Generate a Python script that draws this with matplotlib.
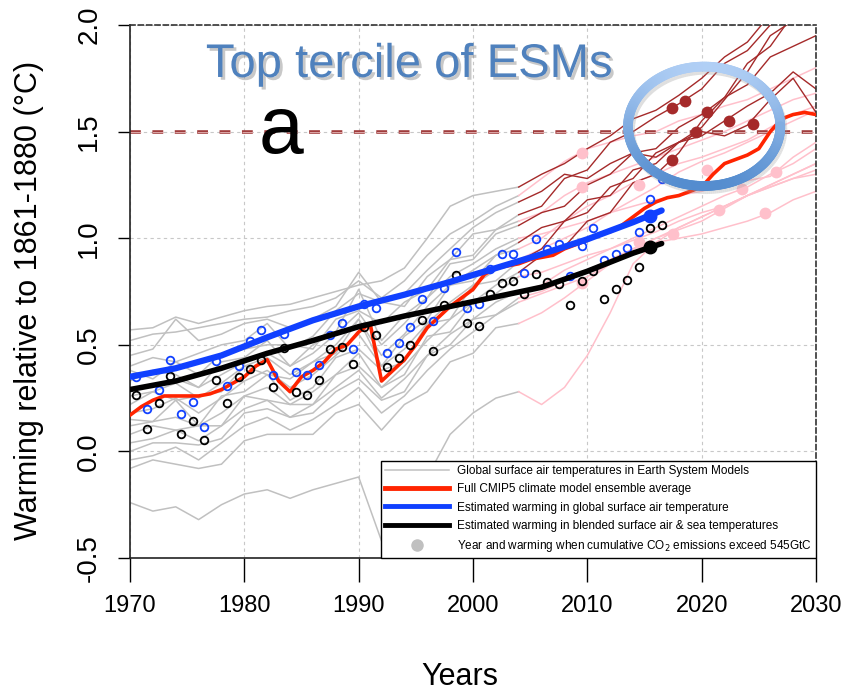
import numpy as np
import matplotlib
matplotlib.use('Agg')
from matplotlib import pyplot as plt
from matplotlib import font_manager as fm
from matplotlib.lines import Line2D
from matplotlib.collections import LineCollection
import matplotlib.patheffects as pe

# ---------------------------------
# DATA
# ---------------------------------
esm_years = list(range(1970, 2031, 2))   # model grid, grey up to 2004
split_year = 2004

# top tercile models (grey before 2004, brown after)
top_models = [
    [0.57, 0.58, 0.63, 0.60, 0.63, 0.66, 0.68, 0.69, 0.72, 0.75, 0.78, 0.80, 0.86, 1.00, 1.15, 1.20, 1.22, 1.24,
     1.30, 1.35, 1.42, 1.48, 1.56, 1.60, 1.67, 1.75, 1.85, 1.92, 2.05, 2.12, 2.20],
    [0.45, 0.48, 0.62, 0.52, 0.55, 0.60, 0.62, 0.58, 0.62, 0.68, 0.84, 0.70, 0.74, 0.85, 0.95, 1.05, 1.12, 1.17,
     1.22, 1.30, 1.28, 1.35, 1.40, 1.38, 1.45, 1.50, 1.48, 1.53, 1.65, 1.75, 1.59],
    [0.40, 0.44, 0.42, 0.46, 0.50, 0.52, 0.60, 0.48, 0.54, 0.66, 0.74, 0.70, 0.68, 0.82, 0.90, 1.02, 1.04, 1.11,
     1.15, 1.28, 1.32, 1.45, 1.50, 1.57, 1.63, 1.70, 1.82, 1.88, 2.00, 2.08, 2.15],
    [0.33, 0.38, 0.36, 0.30, 0.42, 0.44, 0.52, 0.40, 0.50, 0.56, 0.76, 0.52, 0.64, 0.72, 0.88, 0.90, 1.02, 1.06,
     1.12, 1.15, 1.25, 1.30, 1.40, 1.42, 1.52, 1.58, 1.66, 1.72, 1.85, 1.90, 1.95],
    [0.26, 0.28, 0.32, 0.25, 0.32, 0.40, 0.44, 0.36, 0.42, 0.50, 0.62, 0.45, 0.55, 0.68, 0.78, 0.85, 0.92, 0.98,
     1.05, 1.08, 1.18, 1.20, 1.32, 1.35, 1.45, 1.48, 1.55, 1.62, 1.68, 1.78, 1.70],
    [0.15, 0.14, 0.24, 0.12, 0.26, 0.28, 0.36, 0.24, 0.30, 0.44, 0.48, 0.38, 0.42, 0.60, 0.62, 0.78, 0.80, 0.89,
     0.95, 1.08, 1.12, 1.24, 1.28, 1.40, 1.45, 1.52, 1.65, 1.78, 1.95, 2.02, 2.12],
    [0.12, 0.14, 0.16, 0.12, 0.18, 0.26, 0.30, 0.22, 0.28, 0.36, 0.46, 0.30, 0.40, 0.52, 0.62, 0.70, 0.78, 0.84,
     0.92, 0.96, 1.08, 1.12, 1.26, 1.30, 1.40, 1.55, 1.66, 1.82, 1.90, 2.05, 2.15],
]

# remaining models (grey before 2004, pink after)
other_models = [
    [0.52, 0.55, 0.56, 0.58, 0.60, 0.62, 0.63, 0.66, 0.68, 0.72, 0.80, 0.72, 0.80, 0.92, 1.02, 1.08, 1.15, 1.20,
     1.28, 1.36, 1.42, 1.45, 1.48, 1.50, 1.55, 1.58, 1.62, 1.65, 1.70, 1.75, 1.80],
    [0.38, 0.34, 0.42, 0.36, 0.46, 0.48, 0.50, 0.50, 0.48, 0.62, 0.66, 0.60, 0.70, 0.76, 0.90, 0.92, 1.04, 1.08,
     1.12, 1.20, 1.26, 1.30, 1.34, 1.38, 1.42, 1.46, 1.50, 1.55, 1.60, 1.65, 1.68],
    [0.30, 0.30, 0.34, 0.30, 0.36, 0.42, 0.46, 0.40, 0.46, 0.55, 0.65, 0.50, 0.60, 0.72, 0.82, 0.88, 0.95, 1.00,
     1.02, 1.05, 1.08, 1.12, 1.15, 1.18, 1.20, 1.22, 1.25, 1.27, 1.29, 1.38, 1.45],
    [0.22, 0.28, 0.24, 0.26, 0.28, 0.40, 0.36, 0.34, 0.42, 0.46, 0.62, 0.40, 0.54, 0.62, 0.78, 0.80, 0.92, 0.95,
     1.00, 1.08, 1.15, 1.20, 1.26, 1.30, 1.35, 1.38, 1.42, 1.46, 1.52, 1.58, 1.62],
    [0.18, 0.20, 0.25, 0.18, 0.25, 0.33, 0.38, 0.30, 0.36, 0.45, 0.55, 0.40, 0.48, 0.60, 0.70, 0.78, 0.85, 0.90,
     0.95, 1.00, 1.05, 1.12, 1.18, 1.24, 1.31, 1.36, 1.40, 1.45, 1.50, 1.55, 1.60],
    [0.08, 0.12, 0.10, 0.12, 0.12, 0.26, 0.24, 0.22, 0.22, 0.36, 0.40, 0.30, 0.36, 0.54, 0.56, 0.70, 0.74, 0.82,
     0.84, 0.88, 0.92, 0.95, 0.99, 1.03, 1.08, 1.12, 1.15, 1.20, 1.25, 1.30, 1.35],
    [0.04, 0.06, 0.10, 0.05, 0.12, 0.20, 0.24, 0.16, 0.22, 0.30, 0.38, 0.25, 0.34, 0.45, 0.55, 0.62, 0.70, 0.75,
     0.78, 0.85, 0.90, 0.95, 1.00, 1.05, 1.10, 1.15, 1.20, 1.24, 1.30, 1.35, 1.42],
    [0.00, 0.04, 0.04, 0.03, 0.06, 0.18, 0.20, 0.16, 0.18, 0.28, 0.34, 0.24, 0.28, 0.45, 0.50, 0.62, 0.64, 0.72,
     0.75, 0.80, 0.85, 0.90, 0.95, 0.98, 1.05, 1.10, 1.15, 1.20, 1.25, 1.30, 1.35],
    [-0.04, -0.02, 0.02, -0.04, 0.04, 0.12, 0.16, 0.10, 0.15, 0.22, 0.30, 0.18, 0.26, 0.38, 0.48, 0.56, 0.64, 0.70,
     0.74, 0.78, 0.82, 0.88, 0.95, 1.00, 1.05, 1.10, 1.15, 1.20, 1.24, 1.28, 1.32],
    [-0.08, -0.04, -0.06, -0.08, -0.06, 0.05, 0.08, 0.08, 0.08, 0.18, 0.22, 0.10, 0.22, 0.28, 0.42, 0.46, 0.58, 0.60,
     0.65, 0.72, 0.80, 0.88, 0.95, 1.00, 1.04, 1.08, 1.14, 1.20, 1.24, 1.28, 1.30],
    [-0.24, -0.28, -0.26, -0.32, -0.25, -0.20, -0.18, -0.22, -0.18, -0.15, -0.12, -0.42, -0.32, -0.12, 0.08, 0.18, 0.25, 0.28,
     0.22, 0.30, 0.45, 0.65, 0.88, 0.98, 1.00, 1.02, 1.05, 1.08, 1.12, 1.18, 1.22],
]

# year / warming when cumulative CO2 emissions exceed 545GtC
top_dot_years = [2017.4, 2018.5, 2020.5, 2022.4, 2024.5, 2019.5, 2017.4]
top_dot_vals = [1.61, 1.645, 1.59, 1.55, 1.535, 1.496, 1.366]
other_dot_years = [2009.5, 2009.5, 2009.5, 2014.5, 2014.5, 2017.5, 2020.5, 2021.5, 2023.5, 2025.5, 2026.5]
other_dot_vals = [1.40, 1.24, 0.79, 1.25, 0.98, 1.02, 1.32, 1.13, 1.23, 1.12, 1.31]

# CMIP5 ensemble average
cmip_years = list(range(1970, 2031))
cmip_vals = [0.17, 0.21, 0.24, 0.26, 0.26, 0.26, 0.26, 0.27, 0.29, 0.32, 0.35, 0.40, 0.43, 0.33, 0.28,
             0.35, 0.38, 0.42, 0.48, 0.50, 0.56, 0.60, 0.33, 0.38, 0.43, 0.50, 0.58, 0.63, 0.68, 0.72,
             0.76, 0.83, 0.86, 0.87, 0.88, 0.90, 0.91, 0.92, 0.95, 0.97, 0.99, 1.02, 1.03, 1.06, 1.10,
             1.14, 1.17, 1.19, 1.20, 1.22, 1.24, 1.30, 1.35, 1.37, 1.39, 1.42, 1.50, 1.56, 1.58, 1.59, 1.58]

# estimated warming (smooth fits)
fit_years = [1970, 1974, 1978, 1982, 1986, 1990, 1994, 1998, 2002, 2006, 2010, 2014, 2016.5]
sat_fit = [0.35, 0.39, 0.45, 0.535, 0.615, 0.68, 0.735, 0.795, 0.86, 0.925, 0.995, 1.075, 1.13]
blend_fit = [0.29, 0.33, 0.39, 0.46, 0.52, 0.585, 0.635, 0.68, 0.725, 0.77, 0.845, 0.93, 0.975]
end_year = 2015.5
sat_end = 1.105
blend_end = 0.96

# annual observations
obs_years = np.arange(1970, 2017)
sat_obs = [0.35, 0.197, 0.29, 0.43, 0.174, 0.233, 0.114, 0.424, 0.307, 0.40, 0.518, 0.568, 0.357, 0.55,
           0.372, 0.358, 0.404, 0.545, 0.60, 0.48, 0.69, 0.673, 0.46, 0.507, 0.584, 0.717, 0.61, 0.768,
           0.934, 0.674, 0.69, 0.854, 0.926, 0.928, 0.839, 0.998, 0.947, 0.975, 0.823, 0.964, 1.047,
           0.898, 0.925, 0.956, 1.03, 1.183, 1.28]
blend_obs = [0.264, 0.103, 0.225, 0.354, 0.08, 0.144, 0.052, 0.336, 0.228, 0.349, 0.385, 0.429, 0.302,
             0.487, 0.278, 0.263, 0.336, 0.48, 0.49, 0.408, 0.585, 0.545, 0.396, 0.437, 0.498, 0.614,
             0.473, 0.687, 0.828, 0.60, 0.588, 0.737, 0.789, 0.80, 0.74, 0.834, 0.795, 0.784, 0.687,
             0.797, 0.846, 0.714, 0.761, 0.804, 0.867, 1.05, 1.064]

threshold = 1.5
legend_labels = ['Global surface air temperatures in Earth System Models',
                 'Full CMIP5 climate model ensemble average',
                 'Estimated warming in global surface air temperature',
                 'Estimated warming in blended surface air & sea temperatures',
                 'Year and warming when cumulative CO$_2$ emissions exceed 545GtC']

# ---------------------------------
# STYLE
# ---------------------------------
c_grey = '#c0c0c0'
c_pink = '#ffc0cb'
c_brown = '#a52a2a'
c_red = '#ff2400'
c_blue = '#1040ff'

try:
    fm.findfont(fm.FontProperties(family='Liberation Sans Narrow'), fallback_to_default=False)
    axis_font = 'Liberation Sans Narrow'
    xt_size = 21
except Exception:
    axis_font = 'Liberation Sans'
    xt_size = 17
plt.rcParams['font.family'] = 'Liberation Sans'

fig = plt.figure(figsize=(8.44, 6.91), dpi=100)
ax = fig.add_axes([130 / 844, 133 / 691, 686 / 844, 533 / 691])

years = np.array(esm_years)
early = years <= split_year
late = years >= split_year

# model lines
for m in top_models + other_models:
    m = np.array(m)
    ax.plot(years[early], m[early], color=c_grey, lw=1.1, zorder=1)
for m in other_models:
    m = np.array(m)
    ax.plot(years[late], m[late], color=c_pink, lw=1.1, zorder=1)
for m in top_models:
    m = np.array(m)
    ax.plot(years[late], m[late], color=c_brown, lw=1.0, zorder=2)

ax.plot(other_dot_years, other_dot_vals, 'o', color=c_pink, ms=8.5, mec='none', zorder=2)
ax.plot(top_dot_years, top_dot_vals, 'o', color=c_brown, ms=8.5, mec='none', zorder=3)

# 1.5 degree line
ax.axhline(threshold, color='#a03c3c', lw=2.6, dashes=(3, 3.2), zorder=2)
ax.axhline(threshold, color='#e6b8b8', lw=0.6, dashes=(13, 13.9), zorder=2)

# ensemble mean and observations
ax.plot(cmip_years, cmip_vals, color=c_red, lw=2.6, zorder=4)
ax.plot(obs_years + 0.5, sat_obs, 'o', mfc='none', mec=c_blue, ms=5.5, mew=1.3, zorder=5)
ax.plot(obs_years + 0.5, blend_obs, 'o', mfc='none', mec='black', ms=5.5, mew=1.3, zorder=5)
ax.plot(fit_years, sat_fit, color=c_blue, lw=4.5, solid_capstyle='round', zorder=6)
ax.plot(fit_years, blend_fit, color='black', lw=4.0, solid_capstyle='round', zorder=6)
ax.plot([end_year], [sat_end], 'o', color=c_blue, ms=9, zorder=7)
ax.plot([end_year], [blend_end], 'o', color='black', ms=9, zorder=7)

# axes
ax.set_xlim(1970, 2030)
ax.set_ylim(-0.5, 2.0)
ax.set_xticks(range(1970, 2031, 10))
ax.set_yticks([-0.5, 0.0, 0.5, 1.0, 1.5, 2.0])
ax.set_yticklabels(['-0.5', '0.0', '0.5', '1.0', '1.5', '2.0'], rotation=90, va='center')
ax.grid(True, color='#c8c8c8', lw=0.8, dashes=(3, 3))
ax.set_axisbelow(True)
for s in ['top', 'right']:
    ax.spines[s].set_linestyle((0, (3, 2)))
    ax.spines[s].set_color('#333333')
    ax.spines[s].set_linewidth(1.2)
for s in ['left', 'bottom']:
    ax.spines[s].set_color('#222222')
    ax.spines[s].set_linewidth(1.2)
ax.tick_params(axis='x', length=17, width=1, pad=10, labelsize=xt_size)
ax.tick_params(axis='y', length=9, width=1, pad=11, labelsize=20)
for lab in ax.get_xticklabels() + ax.get_yticklabels():
    lab.set_fontfamily(axis_font)
ax.set_xlabel('Years', fontsize=22, family=axis_font)
ax.xaxis.set_label_coords(0.481, -0.195)
ax.set_ylabel('Warming relative to 1861-1880 (°C)', fontsize=22, family=axis_font)
ax.yaxis.set_label_coords(-0.126, 0.484)

# title and panel letter
ax.text(0.407, 0.925, 'Top tercile of ESMs', transform=ax.transAxes, ha='center', va='center',
        fontsize=34, color='#4f81bd', zorder=10,
        path_effects=[pe.SimplePatchShadow(offset=(2, -2), shadow_rgbFace='#777777', alpha=0.4), pe.Normal()])
ax.text(0.22, 0.80, 'a', transform=ax.transAxes, ha='center', va='center', fontsize=58, color='black', zorder=10)

# highlight ellipse with a soft gradient
t = np.linspace(0, 2 * np.pi, 241)
cx, cy, rx, ry = 0.837, 0.810, 0.111, 0.112
ex = cx + rx * np.cos(t)
ey = cy + ry * np.sin(t)
pts = np.array([ex, ey]).T.reshape(-1, 1, 2)
segs = np.concatenate([pts[:-1], pts[1:]], axis=1)
shade = (ey[:-1] - (cy - ry)) / (2 * ry)
light = np.array([0.69, 0.81, 0.96])
dark = np.array([0.33, 0.55, 0.81])
cols = [tuple(dark + (light - dark) * s) for s in shade]
shadow = LineCollection(segs - np.array([[-0.003, 0.006]]), colors='#999999', linewidths=7,
                        alpha=0.3, transform=ax.transAxes, zorder=8)
ax.add_collection(shadow)
ring = LineCollection(segs, colors=cols, linewidths=7, capstyle='round', transform=ax.transAxes, zorder=9)
ax.add_collection(ring)

# legend
handles = [Line2D([], [], color=c_grey, lw=1.1),
           Line2D([], [], color=c_red, lw=3.5),
           Line2D([], [], color=c_blue, lw=3.5),
           Line2D([], [], color='black', lw=3.5),
           Line2D([], [], ls='none', marker='o', color='#c0c0c0', ms=8)]
leg = ax.legend(handles, legend_labels, loc='lower right', fontsize=8.5, handlelength=5.4,
                handletextpad=0.7, borderpad=0.35, borderaxespad=0, labelspacing=0.52,
                fancybox=False, framealpha=1, edgecolor='black')
leg.get_frame().set_linewidth(1.0)
leg.set_zorder(12)

fig.savefig('out.png', dpi=100)
